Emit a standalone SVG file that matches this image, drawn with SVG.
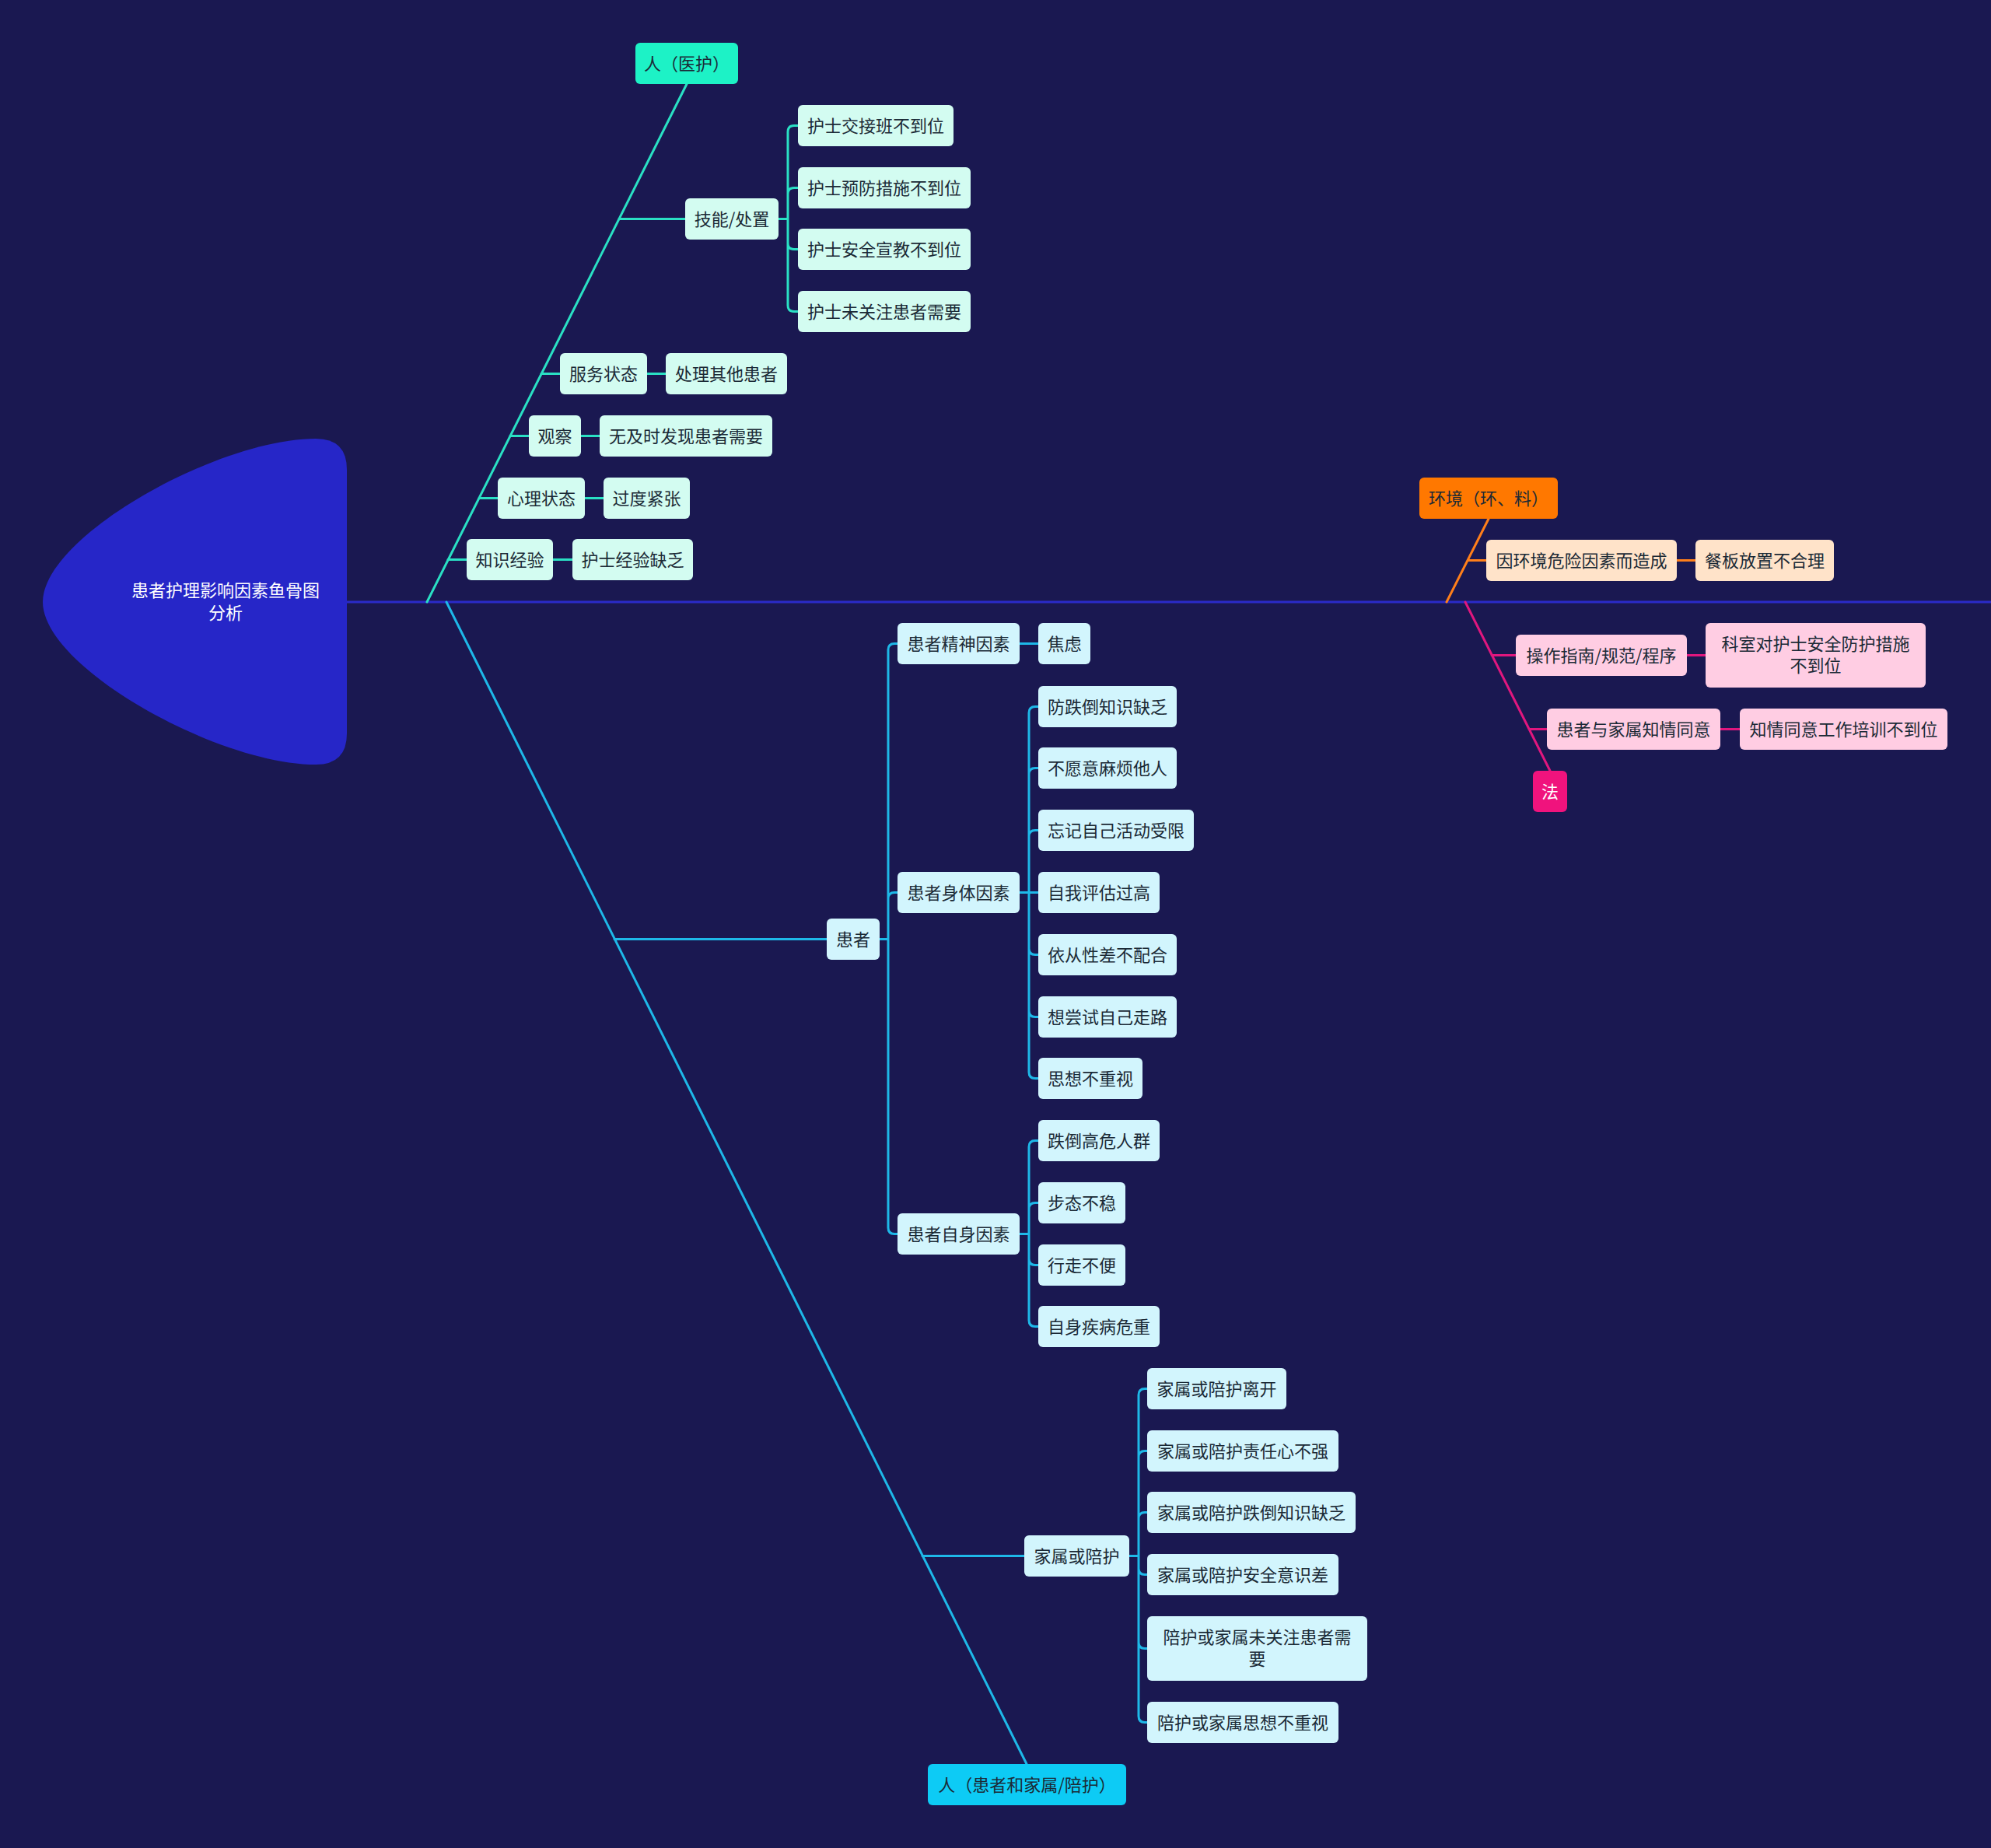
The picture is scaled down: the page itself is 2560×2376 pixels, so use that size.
<svg xmlns="http://www.w3.org/2000/svg" width="2560" height="2376" viewBox="0 0 2560 2376">
<style>
text{font-family:"Noto Sans CJK SC","Noto Sans",sans-serif;font-size:22px;fill:#1b2a36;text-anchor:middle;dominant-baseline:central;transform:translate(0px,-2px)}
.w{fill:#ffffff}
.nt{fill:#d3fcf1}
.nc{fill:#d2f5fd}
.no{fill:#ffe3c9}
.np{fill:#ffcde3}
.ln{fill:none;stroke-width:3;stroke-linecap:round}
.lt{stroke:#2ae0c4}
.lc{stroke:#1eb8e8}
.lo{stroke:#ff7f1a}
.lp{stroke:#e0177e}
</style>
<rect x="0" y="0" width="2560" height="2376" fill="#1a1851"/>
<g id="connectors">
<path class="ln" d="M446,774 H2560" stroke="#2a2ac9" stroke-width="3"/>
<path class="ln lt" d="M549,774 L883,108"/>
<path class="ln lt" d="M796,281.5 H881 M1001,281.5 H1013 M1013,169.5 V392.5 M1013,169.5 Q1013,161.5 1021,161.5 H1026 M1013,249.5 Q1013,241.5 1021,241.5 H1026 M1013,312.5 Q1013,320.5 1021,320.5 H1026 M1013,392.5 Q1013,400.5 1021,400.5 H1026"/>
<path class="ln lt" d="M696,480.5 H720 M832,480.5 H856 M656,560.5 H680 M747,560.5 H771 M616,640.5 H640 M752,640.5 H776 M576,719.5 H600 M711,719.5 H736"/>
<path class="ln lc" d="M574,774 L1320,2268"/>
<path class="ln lc" d="M790,1207.5 H1063 M1131,1207.5 H1142 M1142,835.5 V1578.5 M1142,835.5 Q1142,827.5 1150,827.5 H1154 M1142,1155.5 Q1142,1147.5 1150,1147.5 H1154 M1142,1578.5 Q1142,1586.5 1150,1586.5 H1154"/>
<path class="ln lc" d="M1311,827.5 H1335"/>
<path class="ln lc" d="M1311,1147.5 H1335 M1323,916.5 V1378.5 M1323,916.5 Q1323,908.5 1331,908.5 H1335 M1323,995.5 Q1323,987.5 1331,987.5 H1335 M1323,1075.5 Q1323,1067.5 1331,1067.5 H1335 M1323,1219.5 Q1323,1227.5 1331,1227.5 H1335 M1323,1299.5 Q1323,1307.5 1331,1307.5 H1335 M1323,1378.5 Q1323,1386.5 1331,1386.5 H1335"/>
<path class="ln lc" d="M1311,1586.5 H1323 M1323,1474.5 V1697.5 M1323,1474.5 Q1323,1466.5 1331,1466.5 H1335 M1323,1554.5 Q1323,1546.5 1331,1546.5 H1335 M1323,1618.5 Q1323,1626.5 1331,1626.5 H1335 M1323,1697.5 Q1323,1705.5 1331,1705.5 H1335"/>
<path class="ln lc" d="M1186,2000.5 H1317 M1452,2000.5 H1464 M1464,1793.5 V2206.5 M1464,1793.5 Q1464,1785.5 1472,1785.5 H1475 M1464,1873.5 Q1464,1865.5 1472,1865.5 H1475 M1464,1952.5 Q1464,1944.5 1472,1944.5 H1475 M1464,2016.5 Q1464,2024.5 1472,2024.5 H1475 M1464,2111.5 Q1464,2119.5 1472,2119.5 H1475 M1464,2206.5 Q1464,2214.5 1472,2214.5 H1475"/>
<path class="ln lo" d="M1860,774 L1914,667 M1887,720.5 H1911 M2156,720.5 H2180"/>
<path class="ln lp" d="M1884,774 L1993,991 M1918,842.5 H1949 M2169,842.5 H2193 M1966,937.5 H1989 M2212,937.5 H2237"/>
</g>
<g id="root">
<path d="M446,604 Q446,564 406,564 C280,564 55,690 55,774 C55,858 280,983 406,983 Q446,983 446,943 Z" fill="#2626c8"/>
<text class="w" x="290" y="759">患者护理影响因素鱼骨图</text>
<text class="w" x="290" y="788">分析</text>
</g>
<g id="n-yihu"><rect x="817" y="55" width="132" height="53" rx="6" fill="#1df2c6"/><text x="883" y="81.5">人（医护）</text></g>
<g id="n-jineng"><rect class="nt" x="881" y="255" width="120" height="53" rx="6"/><text x="941" y="281.5">技能/处置</text></g>
<g id="n-jiaojie"><rect class="nt" x="1026" y="135" width="200" height="53" rx="6"/><text x="1126" y="161.5">护士交接班不到位</text></g>
<g id="n-yufang"><rect class="nt" x="1026" y="215" width="222" height="53" rx="6"/><text x="1137" y="241.5">护士预防措施不到位</text></g>
<g id="n-xuanjiao"><rect class="nt" x="1026" y="294" width="222" height="53" rx="6"/><text x="1137" y="320.5">护士安全宣教不到位</text></g>
<g id="n-weiguanzhu"><rect class="nt" x="1026" y="374" width="222" height="53" rx="6"/><text x="1137" y="400.5">护士未关注患者需要</text></g>
<g id="n-fuwu"><rect class="nt" x="720" y="454" width="112" height="53" rx="6"/><text x="776" y="480.5">服务状态</text></g>
<g id="n-chuli"><rect class="nt" x="856" y="454" width="156" height="53" rx="6"/><text x="934" y="480.5">处理其他患者</text></g>
<g id="n-guancha"><rect class="nt" x="680" y="534" width="67" height="53" rx="6"/><text x="713.5" y="560.5">观察</text></g>
<g id="n-wujishi"><rect class="nt" x="771" y="534" width="222" height="53" rx="6"/><text x="882" y="560.5">无及时发现患者需要</text></g>
<g id="n-xinli"><rect class="nt" x="640" y="614" width="112" height="53" rx="6"/><text x="696" y="640.5">心理状态</text></g>
<g id="n-guodu"><rect class="nt" x="776" y="614" width="111" height="53" rx="6"/><text x="831.5" y="640.5">过度紧张</text></g>
<g id="n-zhishi"><rect class="nt" x="600" y="693" width="111" height="53" rx="6"/><text x="655.5" y="719.5">知识经验</text></g>
<g id="n-jingyan"><rect class="nt" x="736" y="693" width="155" height="53" rx="6"/><text x="813.5" y="719.5">护士经验缺乏</text></g>
<g id="n-huanzhejiashu"><rect x="1193" y="2268" width="255" height="53" rx="6" fill="#0dcbf5"/><text x="1320.5" y="2294.5">人（患者和家属/陪护）</text></g>
<g id="n-huanzhe"><rect class="nc" x="1063" y="1181" width="68" height="53" rx="6"/><text x="1097" y="1207.5">患者</text></g>
<g id="n-jingshen"><rect class="nc" x="1154" y="801" width="157" height="53" rx="6"/><text x="1232.5" y="827.5">患者精神因素</text></g>
<g id="n-jiaolv"><rect class="nc" x="1335" y="801" width="67" height="53" rx="6"/><text x="1368.5" y="827.5">焦虑</text></g>
<g id="n-shenti"><rect class="nc" x="1154" y="1121" width="157" height="53" rx="6"/><text x="1232.5" y="1147.5">患者身体因素</text></g>
<g id="n-fangdiedao"><rect class="nc" x="1335" y="882" width="178" height="53" rx="6"/><text x="1424" y="908.5">防跌倒知识缺乏</text></g>
<g id="n-buyuanyi"><rect class="nc" x="1335" y="961" width="178" height="53" rx="6"/><text x="1424" y="987.5">不愿意麻烦他人</text></g>
<g id="n-wangji"><rect class="nc" x="1335" y="1041" width="200" height="53" rx="6"/><text x="1435" y="1067.5">忘记自己活动受限</text></g>
<g id="n-ziwo"><rect class="nc" x="1335" y="1121" width="156" height="53" rx="6"/><text x="1413" y="1147.5">自我评估过高</text></g>
<g id="n-yicong"><rect class="nc" x="1335" y="1201" width="178" height="53" rx="6"/><text x="1424" y="1227.5">依从性差不配合</text></g>
<g id="n-xiangchangshi"><rect class="nc" x="1335" y="1281" width="178" height="53" rx="6"/><text x="1424" y="1307.5">想尝试自己走路</text></g>
<g id="n-sixiang"><rect class="nc" x="1335" y="1360" width="134" height="53" rx="6"/><text x="1402" y="1386.5">思想不重视</text></g>
<g id="n-zishen"><rect class="nc" x="1154" y="1560" width="157" height="53" rx="6"/><text x="1232.5" y="1586.5">患者自身因素</text></g>
<g id="n-gaowei"><rect class="nc" x="1335" y="1440" width="156" height="53" rx="6"/><text x="1413" y="1466.5">跌倒高危人群</text></g>
<g id="n-butai"><rect class="nc" x="1335" y="1520" width="112" height="53" rx="6"/><text x="1391" y="1546.5">步态不稳</text></g>
<g id="n-xingzou"><rect class="nc" x="1335" y="1600" width="112" height="53" rx="6"/><text x="1391" y="1626.5">行走不便</text></g>
<g id="n-jibing"><rect class="nc" x="1335" y="1679" width="156" height="53" rx="6"/><text x="1413" y="1705.5">自身疾病危重</text></g>
<g id="n-jiashu"><rect class="nc" x="1317" y="1974" width="135" height="53" rx="6"/><text x="1384.5" y="2000.5">家属或陪护</text></g>
<g id="n-likai"><rect class="nc" x="1475" y="1759" width="179" height="53" rx="6"/><text x="1564.5" y="1785.5">家属或陪护离开</text></g>
<g id="n-zeren"><rect class="nc" x="1475" y="1839" width="246" height="53" rx="6"/><text x="1598" y="1865.5">家属或陪护责任心不强</text></g>
<g id="n-jiashudiedao"><rect class="nc" x="1475" y="1918" width="268" height="53" rx="6"/><text x="1609" y="1944.5">家属或陪护跌倒知识缺乏</text></g>
<g id="n-anquan"><rect class="nc" x="1475" y="1998" width="246" height="53" rx="6"/><text x="1598" y="2024.5">家属或陪护安全意识差</text></g>
<g id="n-peihuweiguanzhu"><rect class="nc" x="1475" y="2078" width="283" height="83" rx="6"/><text x="1616.5" y="2105">陪护或家属未关注患者需</text><text x="1616.5" y="2133">要</text></g>
<g id="n-peihusixiang"><rect class="nc" x="1475" y="2188" width="246" height="53" rx="6"/><text x="1598" y="2214.5">陪护或家属思想不重视</text></g>
<g id="n-huanjing"><rect x="1825" y="614" width="178" height="53" rx="6" fill="#ff7800"/><text x="1914" y="640.5">环境（环、料）</text></g>
<g id="n-yinhuanjing"><rect class="no" x="1911" y="694" width="245" height="53" rx="6"/><text x="2033.5" y="720.5">因环境危险因素而造成</text></g>
<g id="n-canban"><rect class="no" x="2180" y="694" width="178" height="53" rx="6"/><text x="2269" y="720.5">餐板放置不合理</text></g>
<g id="n-fa"><rect x="1971" y="991" width="44" height="53" rx="6" fill="#f0137d"/><text class="w" x="1993" y="1017.5">法</text></g>
<g id="n-caozuo"><rect class="np" x="1949" y="816" width="220" height="53" rx="6"/><text x="2059" y="842.5">操作指南/规范/程序</text></g>
<g id="n-keshi"><rect class="np" x="2193" y="801" width="283" height="83" rx="6"/><text x="2334.5" y="828">科室对护士安全防护措施</text><text x="2334.5" y="856">不到位</text></g>
<g id="n-zhiqing"><rect class="np" x="1989" y="911" width="223" height="53" rx="6"/><text x="2100.5" y="937.5">患者与家属知情同意</text></g>
<g id="n-peixun"><rect class="np" x="2237" y="911" width="267" height="53" rx="6"/><text x="2370.5" y="937.5">知情同意工作培训不到位</text></g>
</svg>
